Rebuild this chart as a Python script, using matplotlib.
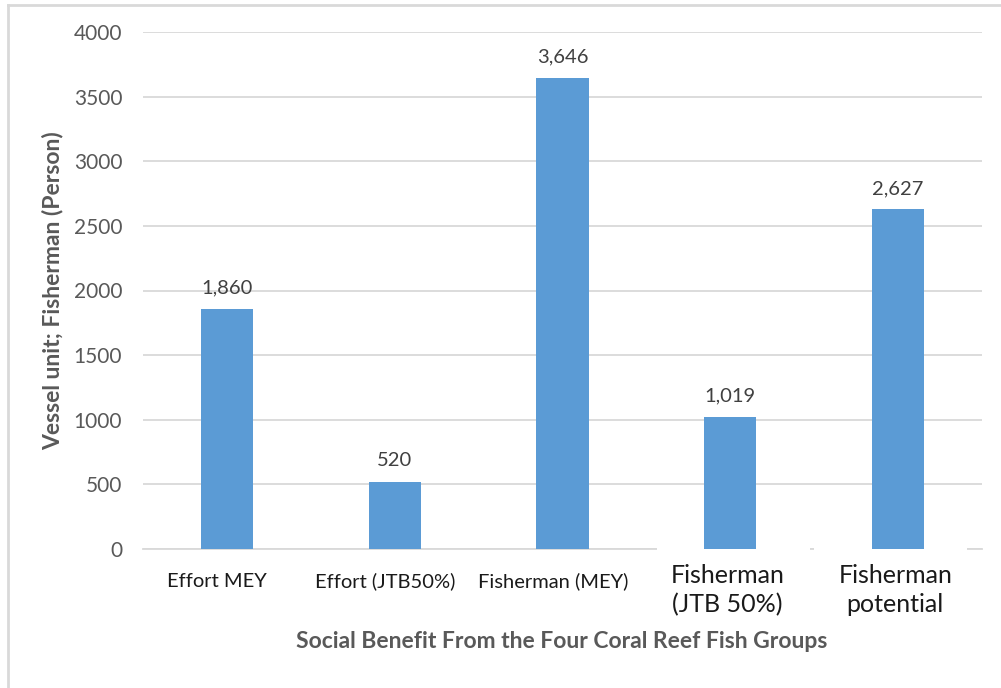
import matplotlib
matplotlib.use("Agg")
import matplotlib.pyplot as plt
from matplotlib.lines import Line2D
from matplotlib.patches import Rectangle

categories = ["Effort MEY", "Effort (JTB50%)", "Fisherman (MEY)",
              "Fisherman\n(JTB 50%)", "Fisherman\npotential"]
values = [1860, 520, 3646, 1019, 2627]
value_labels = ["1,860", "520", "3,646", "1,019", "2,627"]
yticks = [0, 500, 1000, 1500, 2000, 2500, 3000, 3500, 4000]

plt.rcParams["font.family"] = ["Lato", "DejaVu Sans"]

W, H = 1001, 688
fig = plt.figure(figsize=(W / 100, H / 100), dpi=100)
ax = fig.add_axes([143 / W, 1 - 549 / H, 839 / W, 517 / H])

bar_color = "#5B9BD5"
grid_color = "#D9D9D9"

x = list(range(len(categories)))
ax.bar(x, values, width=0.31, color=bar_color, zorder=3)
ax.set_xlim(-0.5, len(categories) - 0.5)
ax.set_ylim(0, 4000)

ax.set_yticks(yticks)
ax.set_yticklabels([str(t) for t in yticks], fontsize=15, color="#595959")
ax.tick_params(axis="y", length=0, pad=15)
ax.set_xticks([])

ax.grid(axis="y", color=grid_color, linewidth=1.3, zorder=0)
for side in ["top", "right", "left"]:
    ax.spines[side].set_visible(False)
ax.spines["bottom"].set_color(grid_color)
ax.spines["bottom"].set_linewidth(1.3)

# value labels above the bars
for xi, v, lab in zip(x, values, value_labels):
    ax.annotate(lab, (xi, v), xytext=(0, 9), textcoords="offset points",
                ha="center", va="bottom", fontsize=14.5, color="#404040")

# white patches hiding the baseline under the two larger labels
for x0, x1 in [(657, 810), (814, 967)]:
    ax.add_artist(Rectangle((x0 / W, 1 - 553 / H), (x1 - x0) / W, 7 / H,
                            transform=fig.transFigure, fc="white", ec="none",
                            zorder=2.8, clip_on=False))

# category labels; the last two are larger and wrap onto two lines
for xi, cat in zip(x, categories):
    if "\n" in cat:
        ax.annotate(cat, (xi, 0), xycoords=("data", "axes fraction"),
                    xytext=(-2, -11), textcoords="offset points",
                    ha="center", va="top", fontsize=18, color="#1a1a1a",
                    linespacing=1.3, zorder=5, annotation_clip=False)
    else:
        ax.annotate(cat, (xi, 0), xycoords=("data", "axes fraction"),
                    xytext=(-7, -17), textcoords="offset points",
                    ha="center", va="top", fontsize=14.5, color="#1a1a1a",
                    zorder=5, annotation_clip=False)

fig.text(53 / W, 1 - 291 / H, "Vessel unit; Fisherman (Person)",
         rotation=90, ha="center", va="center", fontsize=16.5,
         fontweight="bold", color="#595959")

fig.text(562 / W, 1 - 641 / H,
         "Social Benefit From the Four Coral Reef Fish Groups",
         ha="center", va="center", fontsize=16.5, fontweight="bold",
         color="#595959")

# outer frame (left and top edges)
fig.add_artist(Line2D([8 / W, 8 / W], [0, 1 - 5 / H], transform=fig.transFigure,
                      color="#D9D9D9", linewidth=2))
fig.add_artist(Line2D([8 / W, 1], [1 - 5 / H, 1 - 5 / H],
                      transform=fig.transFigure, color="#D9D9D9", linewidth=2))

fig.savefig("out.png", dpi=100, facecolor="white")
